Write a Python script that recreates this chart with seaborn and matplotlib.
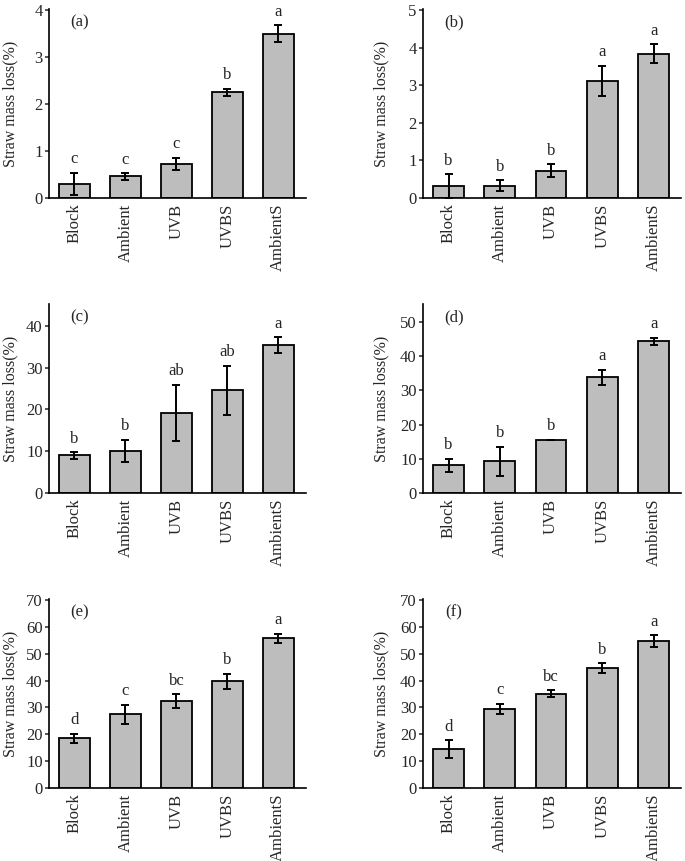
import matplotlib
matplotlib.use("Agg")
import matplotlib.pyplot as plt
import seaborn as sns
import pandas as pd
import numpy as np

sns.set_theme(style="ticks")
plt.rcParams['font.family'] = ['Liberation Serif', 'DejaVu Serif']
plt.rcParams['mathtext.fontset'] = 'stix'

categories = ["Block", "Ambient", "UVB", "UVBS", "AmbientS"]

panel_labels = ["(a)", "(b)", "(c)", "(d)", "(e)", "(f)"]

mean_a = [0.30, 0.46, 0.73, 2.25, 3.49]
err_a = [0.24, 0.07, 0.13, 0.07, 0.18]
sig_a = ["c", "c", "c", "b", "a"]

mean_b = [0.31, 0.33, 0.73, 3.11, 3.84]
err_b = [0.32, 0.14, 0.17, 0.40, 0.25]
sig_b = ["b", "b", "b", "a", "a"]

mean_c = [9.0, 10.1, 19.2, 24.6, 35.4]
err_c = [0.8, 2.6, 6.7, 5.9, 1.9]
sig_c = ["b", "b", "ab", "ab", "a"]

mean_d = [8.1, 9.3, 15.5, 33.9, 44.4]
err_d = [1.9, 4.2, 0.0, 2.2, 1.0]
sig_d = ["b", "b", "b", "a", "a"]

mean_e = [18.5, 27.5, 32.4, 39.7, 55.7]
err_e = [1.6, 3.5, 2.5, 2.9, 1.7]
sig_e = ["d", "c", "bc", "b", "a"]

mean_f = [14.4, 29.4, 35.1, 44.6, 54.7]
err_f = [3.4, 2.0, 1.2, 1.8, 2.1]
sig_f = ["d", "c", "bc", "b", "a"]

y_max = [4, 5, 45, 55, 70, 70]
y_step = [1, 1, 10, 10, 10, 10]

panels = [
    (mean_a, err_a, sig_a),
    (mean_b, err_b, sig_b),
    (mean_c, err_c, sig_c),
    (mean_d, err_d, sig_d),
    (mean_e, err_e, sig_e),
    (mean_f, err_f, sig_f),
]

fig = plt.figure(figsize=(6.85, 8.61), dpi=100)

lefts = [0.0715, 0.6175]
widths = [0.375, 0.377]
bottoms = [0.770, 0.4274, 0.0848]
height = 0.2195
ylabel_x = [-0.118, -0.132]

for i, ((means, errs, sigs), lab) in enumerate(zip(panels, panel_labels)):
    r, c = divmod(i, 2)
    ax = fig.add_axes([lefts[c], bottoms[r], widths[c], height])
    df = pd.DataFrame({"cat": categories, "val": means})
    sns.barplot(data=df, x="cat", y="val", order=categories, color="#bdbdbd",
                saturation=1, width=0.6, edgecolor="black", linewidth=1.3,
                errorbar=None, ax=ax)
    xs = np.arange(len(categories))
    ax.errorbar(xs, means, yerr=errs, fmt="none", ecolor="black",
                elinewidth=1.4, capsize=3, capthick=1.4, zorder=5)
    for x, m, e, s in zip(xs, means, errs, sigs):
        ax.annotate(s, xy=(x, m + e), xytext=(0, 4), textcoords="offset points",
                    ha="center", va="bottom", fontsize=12)
    ax.set_xlim(-0.5, 4.54)
    ax.set_ylim(0, y_max[i] * 1.005)
    ticks = np.arange(0, y_max[i] + 0.001, y_step[i])
    ax.set_yticks(ticks)
    ax.set_yticklabels([f"{int(v)}" for v in ticks])
    ax.set_xlabel("")
    ax.set_ylabel("Straw mass loss(%)", fontsize=11.5)
    ax.yaxis.set_label_coords(ylabel_x[c], 0.5)
    ax.tick_params(axis="x", length=0, labelsize=12, rotation=90, pad=4)
    ax.tick_params(axis="y", length=3, width=1.1, labelsize=12, pad=1.5, direction="out")
    for sp in ["top", "right"]:
        ax.spines[sp].set_visible(False)
    for sp in ["left", "bottom"]:
        ax.spines[sp].set_linewidth(1.2)
        ax.spines[sp].set_color("black")
    ax.text(0.12, 0.93, lab, transform=ax.transAxes, ha="center", va="center",
            fontsize=12)

fig.savefig("out.png", dpi=100)
